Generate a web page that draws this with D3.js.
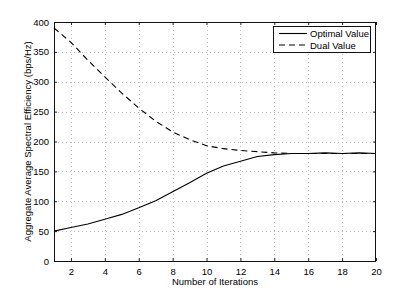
<!DOCTYPE html>
<html><head><meta charset="utf-8">
<script src="https://cdn.jsdelivr.net/npm/d3@7"></script>
<style>
html,body{margin:0;padding:0;background:#fff;}
svg{display:block;font-family:"Liberation Sans",Arial,Helvetica,sans-serif;}
</style></head>
<body><svg id="c" width="415" height="294"></svg>
<script>
const iterations = [1,2,3,4,5,6,7,8,9,10,11,12,13,14,15,16,17,18,19,20];
const optimalValue = [50,56,62,70,78,89,101,116,131,147,159,167,175,178,180,180,181,180,181,180];
const dualValue = [390,366,336,308,281,256,234,216,203,193,188,185,183,181,180,180,180,180,180,180];
const xTicks = [2,4,6,8,10,12,14,16,18,20];
const yTicks = [0,50,100,150,200,250,300,350,400];
const seriesNames = ["Optimal Value","Dual Value"];
const xLabel = "Number of Iterations";
const yLabel = "Aggregate Average Spectral Efficiency (bps/Hz)";

const svg = d3.select("#c");
const L=54, T=22, R=376, B=261;
const x = d3.scaleLinear().domain([1,20]).range([L,R]);
const y = d3.scaleLinear().domain([0,400]).range([B,T]);
const fs = "9.5px";

// grid
const g = svg.append("g");
g.selectAll("line.gx").data(xTicks.filter(d=>d<20)).enter().append("line")
  .attr("x1",d=>Math.round(x(d))+0.5).attr("x2",d=>Math.round(x(d))+0.5)
  .attr("y1",T).attr("y2",B).attr("stroke","#bbb").attr("stroke-width",1).attr("stroke-dasharray","1,3");
g.selectAll("line.gy").data(yTicks.filter(d=>d>0&&d<400)).enter().append("line")
  .attr("y1",d=>Math.round(y(d))+0.5).attr("y2",d=>Math.round(y(d))+0.5)
  .attr("x1",L).attr("x2",R).attr("stroke","#bbb").attr("stroke-width",1).attr("stroke-dasharray","1,3");

// axes with inward ticks
const ax = svg.append("g").attr("transform",`translate(0,${B})`)
  .call(d3.axisBottom(x).tickValues(xTicks).tickSizeInner(-3).tickSizeOuter(0).tickPadding(7));
const axT = svg.append("g").attr("transform",`translate(0,${T})`)
  .call(d3.axisTop(x).tickValues(xTicks).tickSizeInner(-3).tickSizeOuter(0).tickFormat(""));
const ay = svg.append("g").attr("transform",`translate(${L},0)`)
  .call(d3.axisLeft(y).tickValues(yTicks).tickSizeInner(-3).tickSizeOuter(0).tickPadding(5));
const ayR = svg.append("g").attr("transform",`translate(${R},0)`)
  .call(d3.axisRight(y).tickValues(yTicks).tickSizeInner(-3).tickSizeOuter(0).tickFormat(""));
[ax,axT,ay,ayR].forEach(a=>{
  a.select(".domain").remove();
  a.selectAll("line").attr("stroke","#222");
  a.selectAll("text").attr("fill","#000").style("font-size",fs).style("font-family","Liberation Sans, Arial, sans-serif");
});
svg.append("rect").attr("x",L+0.5).attr("y",T+0.5).attr("width",R-L-1).attr("height",B-T)
  .attr("fill","none").attr("stroke","#111").attr("stroke-width",1);

// lines
const line = (vals)=>d3.line().x((d,i)=>x(iterations[i])).y(d=>y(d))(vals);
svg.append("path").attr("d",line(optimalValue)).attr("fill","none").attr("stroke","#000").attr("stroke-width",1.1);
svg.append("path").attr("d",line(dualValue)).attr("fill","none").attr("stroke","#000").attr("stroke-width",1.1).attr("stroke-dasharray","6,4");

// labels
svg.append("text").attr("x",(L+R)/2).attr("y",285).attr("text-anchor","middle").style("font-size",fs).text(xLabel);
svg.append("text").attr("transform",`translate(31,${(T+B)/2}) rotate(-90)`).attr("text-anchor","middle").style("font-size",fs).text(yLabel);

// legend
const lg = svg.append("g");
lg.append("rect").attr("x",273.5).attr("y",26.5).attr("width",97).attr("height",26).attr("fill","#fff").attr("stroke","#111");
const rows=[33.5,45];
seriesNames.forEach((n,i)=>{
  lg.append("line").attr("x1",279).attr("x2",307).attr("y1",rows[i]).attr("y2",rows[i])
    .attr("stroke","#000").attr("stroke-width",1.1).attr("stroke-dasharray",i?"6,4":null);
  lg.append("text").attr("x",310).attr("y",rows[i]+3.5).style("font-size",fs).text(n);
});
</script></body></html>
